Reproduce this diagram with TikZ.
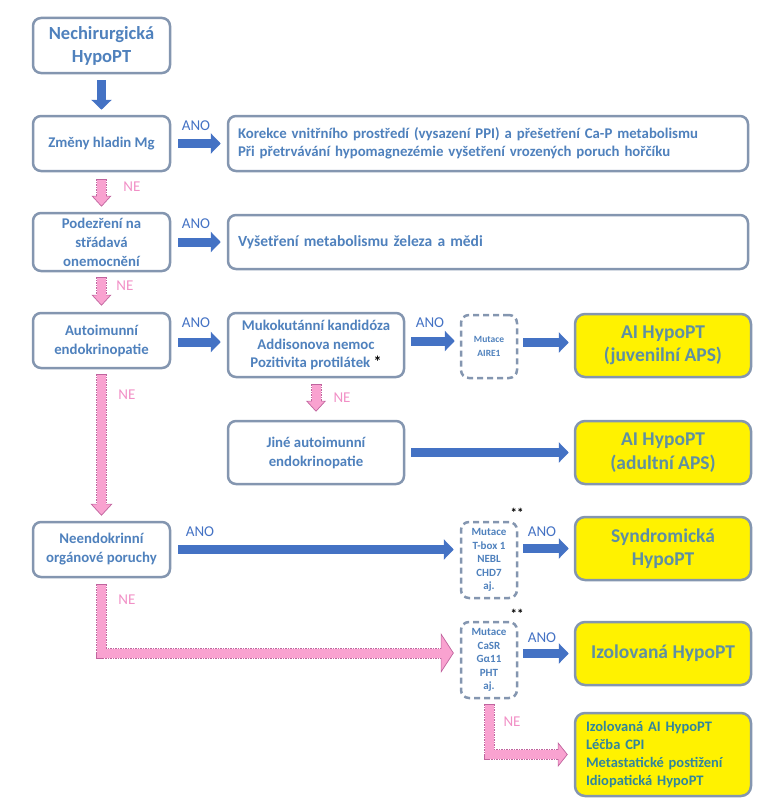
\documentclass[tikz,border=0pt]{standalone}
\usepackage{fontspec}
\setmainfont{Carlito}
\usepackage{tikz}
\usetikzlibrary{arrows.meta}

\definecolor{boxgray}{HTML}{8496B0}
\definecolor{textblue}{HTML}{4F81BD}
\definecolor{arrowblue}{HTML}{4472C4}
\definecolor{pinkfill}{HTML}{F9A2D0}
\definecolor{pinkedge}{HTML}{C0649E}
\definecolor{notext}{HTML}{F190C6}
\definecolor{goaltext}{HTML}{5E8FA3}
\definecolor{listtext}{HTML}{31859C}

\begin{document}
\begin{tikzpicture}[x=1pt, y=-1pt, line width=1pt,
  box/.style={draw=boxgray, line width=2.5pt, rounded corners=8pt, fill=white, text=textblue,
              font=\bfseries\fontsize{14.8pt}{19pt}\selectfont, align=center, inner sep=0pt},
  mutbox/.style={box, dash pattern=on 6pt off 4pt, font=\bfseries\fontsize{11pt}{13.5pt}\selectfont},
  goal/.style={box, fill=yellow, text=goaltext, rounded corners=10pt, font=\bfseries\fontsize{19.5pt}{23.5pt}\selectfont},
  yes/.style={text=arrowblue, font=\fontsize{15pt}{16pt}\selectfont, inner sep=0pt},
  no/.style={text=notext, font=\fontsize{15pt}{16pt}\selectfont, inner sep=0pt},
  bluearrow/.style={draw=arrowblue, line width=9pt, -{Triangle[length=10pt, width=20pt]}},
  pinkout/.style={draw=pinkedge, line width=11pt, dash pattern=on 1.5pt off 1pt, line join=miter},
  pinkin/.style={draw=pinkfill, line width=9pt, line join=miter}
]

\useasboundingbox (0, 0) rectangle (771, 800);

% draw left column of questions
\node[box, minimum width=137pt, minimum height=55pt, font=\bfseries\fontsize{18.5pt}{23pt}\selectfont] (start) at (101.5, 45.5) {Nechirurgická\\HypoPT};
\node[box, minimum width=137pt, minimum height=55pt] (mg) at (101.5, 143.5) {Změny hladin Mg};
\node[box, minimum width=137pt, minimum height=58pt] (stradava) at (101.5, 242) {Podezření na\\střádavá\\onemocnění};
\node[box, minimum width=137pt, minimum height=55pt] (autoimun) at (101.5, 340.5) {Autoimunní\\endokrinopatie};
\node[box, minimum width=137pt, minimum height=55pt] (neendo) at (101.5, 549.5) {Neendokrinní\\orgánové poruchy};

% draw wide boxes
\node[box, minimum width=520pt, minimum height=55pt, text width=500pt, align=left, font=\bfseries\fontsize{14.8pt}{18pt}\selectfont] (korekce) at (488, 143.5)
  {Korekce vnitřního prostředí (vysazení PPI) a přešetření Ca-P metabolismu\\Při přetrvávání hypomagnezémie vyšetření vrozených poruch hořčíku};
\node[box, minimum width=520pt, minimum height=54pt, text width=500pt, align=left, font=\bfseries\fontsize{15.5pt}{19pt}\selectfont] (zelezo) at (488, 242) {Vyšetření metabolismu železa a mědi};

% draw middle boxes
\node[box, minimum width=176pt, minimum height=64pt, font=\bfseries\fontsize{14.8pt}{18.5pt}\selectfont] (muko) at (316, 345)
  {Mukokutánní kandidóza\\Addisonova nemoc\\Pozitivita protilátek {\color{black}\fontsize{16pt}{16pt}\selectfont*}};
\node[box, minimum width=176pt, minimum height=63pt] (jine) at (316, 452.5) {Jiné autoimunní\\endokrinopatie};

% draw mutation boxes
\node[mutbox, minimum width=56pt, minimum height=63pt, font=\bfseries\fontsize{9.5pt}{14pt}\selectfont] (aire) at (489, 346.5) {Mutace\\AIRE1};
\node[mutbox, minimum width=56pt, minimum height=76pt] (tbox) at (489, 560) {Mutace\\T-box 1\\NEBL\\CHD7\\aj.};
\node[mutbox, minimum width=56pt, minimum height=76pt] (casr) at (489, 660) {Mutace\\CaSR\\Gα11\\PHT\\aj.};
\node[font=\bfseries\fontsize{13pt}{13pt}\selectfont, inner sep=0pt] (stars1) at (517, 513) {**};
\node[font=\bfseries\fontsize{13pt}{13pt}\selectfont, inner sep=0pt] (stars2) at (517, 614) {**};

% draw yellow results
\node[goal, minimum width=176pt, minimum height=63pt] (juv) at (663, 345.5) {AI HypoPT\\(juvenilní APS)};
\node[goal, minimum width=176pt, minimum height=63pt] (adult) at (663, 452.5) {AI HypoPT\\(adultní APS)};
\node[goal, minimum width=176pt, minimum height=63pt] (syndrom) at (663, 548.5) {Syndromická\\HypoPT};
\node[goal, minimum width=176pt, minimum height=63pt] (izol) at (663, 653.5) {Izolovaná HypoPT};
\node[goal, minimum width=176pt, minimum height=83pt, text width=154pt, align=left, text=listtext,
      font=\bfseries\fontsize{14.5pt}{17.7pt}\selectfont] (ostatni) at (663, 754.5)
  {Izolovaná AI HypoPT\\Léčba CPI\\Metastatické postižení\\Idiopatická HypoPT};

% draw blue arrows
\draw[bluearrow, shorten <=6pt, shorten >=5pt] (start) -- (mg);
\draw[bluearrow, shorten <=7pt, shorten >=6pt] (mg) -- (korekce);
\draw[bluearrow, shorten <=7pt, shorten >=6pt] (stradava.east) -- (stradava.east -| zelezo.west);
\draw[bluearrow, shorten <=7pt, shorten >=6pt] ([yshift=-1.5pt]autoimun.east) -- ([yshift=-1.5pt]autoimun.east -| muko.west);
\draw[bluearrow, shorten <=6pt, shorten >=5pt] ([yshift=4pt]muko.east) -- ([yshift=4pt]muko.east -| aire.west);
\draw[bluearrow, shorten <=5pt, shorten >=5pt] ([yshift=4pt]aire.east) -- ([yshift=4pt]aire.east -| juv.west);
\draw[bluearrow, shorten <=6pt, shorten >=5pt] (jine) -- (adult);
\draw[bluearrow, shorten <=7pt, shorten >=6pt] (neendo.east) -- (neendo.east -| tbox.west);
\draw[bluearrow, shorten <=5pt, shorten >=5pt] (tbox.east |- syndrom.west) -- (syndrom.west);
\draw[bluearrow, shorten <=5pt, shorten >=5pt] (casr.east |- izol.west) -- (izol.west);

% draw pink arrows (outline first, then fill)
\draw[pinkout, shorten <=7pt, shorten >=5pt, -{Triangle[length=11pt, width=20pt, fill=pinkfill, color=pinkedge, line width=0.7pt]}] (mg) -- (stradava);
\draw[pinkin, shorten <=7.5pt, shorten >=15pt] (mg) -- (stradava);
\draw[pinkout, shorten <=5pt, shorten >=6pt, -{Triangle[length=11pt, width=20pt, fill=pinkfill, color=pinkedge, line width=0.7pt]}] (stradava) -- (autoimun);
\draw[pinkin, shorten <=5.5pt, shorten >=16pt] (stradava) -- (autoimun);
\draw[pinkout, shorten <=5pt, shorten >=5pt, -{Triangle[length=12pt, width=22pt, fill=pinkfill, color=pinkedge, line width=0.7pt]}] (autoimun) -- (neendo);
\draw[pinkin, shorten <=5.5pt, shorten >=16pt] (autoimun) -- (neendo);
\draw[pinkout, shorten <=6pt, shorten >=8pt, -{Triangle[length=11pt, width=20pt, fill=pinkfill, color=pinkedge, line width=0.7pt]}] (muko) -- (jine);
\draw[pinkin, shorten <=6.5pt, shorten >=18pt] (muko) -- (jine);
\draw[pinkout, shorten <=6pt, shorten >=6pt, -{Triangle[length=13pt, width=40pt, fill=pinkfill, color=pinkedge, line width=0.7pt]}] (neendo.south) |- ([yshift=7pt]casr.west);
\draw[pinkin, shorten <=6.5pt, shorten >=18pt] (neendo.south) |- ([yshift=7pt]casr.west);
\draw[pinkout, shorten <=5pt, shorten >=6pt, -{Triangle[length=10pt, width=25pt, fill=pinkfill, color=pinkedge, line width=0.7pt]}] (casr.south) |- (ostatni.west);
\draw[pinkin, shorten <=5.5pt, shorten >=15pt] (casr.south) |- (ostatni.west);

% draw labels
\node[yes] (ano1) at (196, 126) {ANO};
\node[yes] (ano2) at (196, 224) {ANO};
\node[yes] (ano3) at (196, 323) {ANO};
\node[yes] (ano4) at (430, 323) {ANO};
\node[yes] (ano5) at (200, 532) {ANO};
\node[yes] (ano6) at (542, 532) {ANO};
\node[yes] (ano7) at (542, 638) {ANO};
\node[no] (ne1) at (132, 187) {NE};
\node[no] (ne2) at (125, 286) {NE};
\node[no] (ne3) at (127, 395) {NE};
\node[no] (ne4) at (342, 398) {NE};
\node[no] (ne5) at (127, 600) {NE};
\node[no] (ne6) at (512, 722) {NE};

\end{tikzpicture}
\end{document}
